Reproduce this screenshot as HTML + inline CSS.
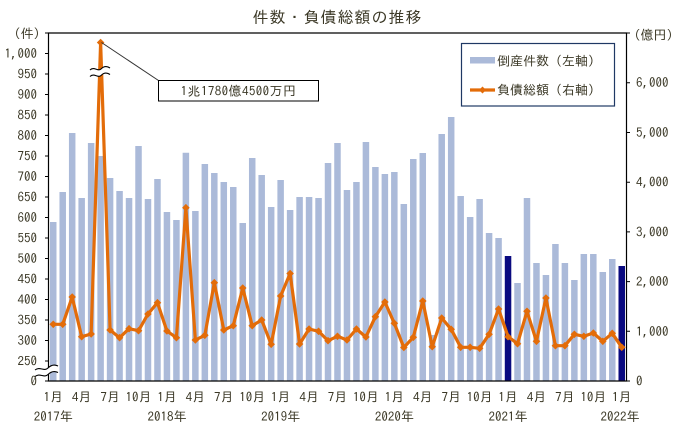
<!DOCTYPE html>
<html><head><meta charset="utf-8"><style>
html,body{margin:0;padding:0;background:#fff;}
svg{display:block;}
text{font-family:"IPAGothic","Noto Sans CJK JP",sans-serif;fill:#3b3826;font-size:13px;}
</style></head><body>
<svg width="685" height="436" viewBox="0 0 685 436" xmlns="http://www.w3.org/2000/svg">
<defs>
<marker id="dm" markerUnits="userSpaceOnUse" markerWidth="10" markerHeight="10" refX="5" refY="5" viewBox="0 0 10 10">
<path d="M5,1.2 L8.8,5 L5,8.8 L1.2,5 Z" fill="#e36c09"/>
</marker>
</defs>
<rect width="685" height="436" fill="#fff"/>
<text x="337.5" y="23" text-anchor="middle" style="font-size:16px;letter-spacing:1px">件数・負債総額の推移</text>
<path fill="#abbad9" d="M49.99,381V222h6.5V381zM59.47,381V192h6.5V381zM68.94,381V133h6.5V381zM78.42,381V198h6.5V381zM87.89,381V143h6.5V381zM97.37,381V156h6.5V381zM106.84,381V178h6.5V381zM116.32,381V191h6.5V381zM125.79,381V198h6.5V381zM135.27,381V146h6.5V381zM144.74,381V199h6.5V381zM154.22,381V179h6.5V381zM163.69,381V212h6.5V381zM173.17,381V220h6.5V381zM182.64,381V152.7h6.5V381zM192.12,381V211h6.5V381zM201.59,381V164h6.5V381zM211.07,381V173h6.5V381zM220.54,381V182h6.5V381zM230.02,381V187h6.5V381zM239.49,381V223h6.5V381zM248.97,381V158h6.5V381zM258.44,381V175h6.5V381zM267.92,381V207h6.5V381zM277.39,381V180h6.5V381zM286.87,381V210h6.5V381zM296.34,381V197h6.5V381zM305.82,381V197h6.5V381zM315.29,381V198h6.5V381zM324.77,381V163h6.5V381zM334.24,381V143h6.5V381zM343.72,381V190h6.5V381zM353.19,381V182h6.5V381zM362.67,381V142h6.5V381zM372.14,381V167h6.5V381zM381.62,381V174h6.5V381zM391.09,381V172h6.5V381zM400.57,381V204h6.5V381zM410.04,381V159h6.5V381zM419.52,381V153h6.5V381zM428.99,381V335h6.5V381zM438.47,381V134h6.5V381zM447.94,381V117h6.5V381zM457.42,381V196h6.5V381zM466.89,381V217h6.5V381zM476.37,381V199h6.5V381zM485.84,381V233h6.5V381zM495.32,381V238h6.5V381zM514.27,381V283h6.5V381zM523.74,381V198h6.5V381zM533.22,381V263h6.5V381zM542.69,381V275h6.5V381zM552.17,381V244h6.5V381zM561.64,381V263h6.5V381zM571.12,381V280h6.5V381zM580.59,381V254h6.5V381zM590.07,381V254h6.5V381zM599.54,381V272h6.5V381zM609.02,381V259h6.5V381z"/>
<path fill="#0a0a80" d="M504.79,381V256h6.5V381zM618.49,381V266h6.5V381z"/>
<polyline fill="none" stroke="#e36c09" stroke-width="3.2" stroke-linejoin="round" marker-start="url(#dm)" marker-mid="url(#dm)" marker-end="url(#dm)" points="53.24,324.3 62.72,324.3 72.19,297 81.67,336.7 91.14,334 100.62,42.5 110.09,330 119.57,337.7 129.04,328.7 138.52,330.7 147.99,314 157.47,302.7 166.94,331 176.42,337.7 185.89,207.7 195.37,340 204.84,335.3 214.32,282.7 223.79,330 233.27,325.7 242.74,288 252.22,325.7 261.69,320 271.17,344.3 280.64,296 290.12,273.5 299.59,344 309.07,329 318.54,331.3 328.02,340.7 337.49,336.3 346.97,340 356.44,329 365.92,337 375.39,316.7 384.87,302 394.34,323.3 403.82,347.5 413.29,337.3 422.77,301 432.24,346.7 441.72,318 451.19,329.3 460.67,347.3 470.14,347.3 479.62,348.3 489.09,334.3 498.57,309 508.04,336.7 517.52,343.7 526.99,311.3 536.47,341.3 545.94,298 555.42,345.7 564.89,345.7 574.37,334.3 583.84,336.3 593.32,333 602.79,341.3 612.27,333.3 621.74,347.3"/>
<path fill="none" stroke="#000" stroke-width="1.2" d="M48.5,33H626.5V381H48.5Z"/>
<path fill="none" stroke="#000" stroke-width="1" d="M45,33h3.5M45,53.5h3.5M45,74h3.5M45,94.5h3.5M45,115h3.5M45,135.5h3.5M45,156h3.5M45,176.5h3.5M45,197h3.5M45,217.5h3.5M45,238h3.5M45,258.5h3.5M45,279h3.5M45,299.5h3.5M45,320h3.5M45,340.5h3.5M45,361h3.5M45,381h3.5M626.5,381h3.5M626.5,331.3h3.5M626.5,281.6h3.5M626.5,231.9h3.5M626.5,182.2h3.5M626.5,132.5h3.5M626.5,82.7h3.5M626.5,33h3.5"/>
<g text-anchor="end">
<text x="40" y="38">(件)</text>
<text x="37" y="58">1,000</text>
<text x="37" y="78.5">950</text>
<text x="37" y="99">900</text>
<text x="37" y="119.5">850</text>
<text x="37" y="140">800</text>
<text x="37" y="160.5">750</text>
<text x="37" y="181">700</text>
<text x="37" y="201.5">650</text>
<text x="37" y="222">600</text>
<text x="37" y="242.5">550</text>
<text x="37" y="263">500</text>
<text x="37" y="283.5">450</text>
<text x="37" y="304">400</text>
<text x="37" y="324.5">350</text>
<text x="37" y="345">300</text>
<text x="37" y="365.5">250</text>
<text x="37" y="385.5">0</text>
</g>
<g>
<text x="634" y="39.5">(億円)</text>
<text x="636" y="87.2">6,000</text>
<text x="636" y="137">5,000</text>
<text x="636" y="186.7">4,000</text>
<text x="636" y="236.4">3,000</text>
<text x="636" y="286.1">2,000</text>
<text x="636" y="335.8">1,000</text>
<text x="636" y="385.5">0</text>
</g>
<g text-anchor="middle">
<text x="53.24" y="401.5">1月</text>
<text x="81.67" y="401.5">4月</text>
<text x="110.09" y="401.5">7月</text>
<text x="138.52" y="401.5">10月</text>
<text x="166.94" y="401.5">1月</text>
<text x="195.37" y="401.5">4月</text>
<text x="223.79" y="401.5">7月</text>
<text x="252.22" y="401.5">10月</text>
<text x="280.64" y="401.5">1月</text>
<text x="309.07" y="401.5">4月</text>
<text x="337.49" y="401.5">7月</text>
<text x="365.92" y="401.5">10月</text>
<text x="394.34" y="401.5">1月</text>
<text x="422.77" y="401.5">4月</text>
<text x="451.19" y="401.5">7月</text>
<text x="479.62" y="401.5">10月</text>
<text x="508.04" y="401.5">1月</text>
<text x="536.47" y="401.5">4月</text>
<text x="564.89" y="401.5">7月</text>
<text x="593.32" y="401.5">10月</text>
<text x="621.74" y="401.5">1月</text>
<text x="53.24" y="421">2017年</text>
<text x="166.94" y="421">2018年</text>
<text x="280.64" y="421">2019年</text>
<text x="394.34" y="421">2020年</text>
<text x="508.04" y="421">2021年</text>
<text x="620" y="421">2022年</text>
</g>
<path d="M35,370 C40,366 44,372 48,368 C51,365 54,364 58,366 L58,372.5 C54,370.5 51,371.5 48,374.5 C44,378.5 40,372.5 35,376.5 Z" fill="#fff"/>
<path d="M35,370 C40,366 44,372 48,368 C51,365 54,364 58,366 M35,376.5 C40,372.5 44,378.5 48,374.5 C51,371.5 54,370.5 58,372.5" fill="none" stroke="#000" stroke-width="1.1"/>
<path d="M90,70 C94,66 98,72 101,69 C104,66 107,66 110,68 L110,74.5 C107,72.5 104,72.5 101,75.5 C98,78.5 94,72.5 90,76.5 Z" fill="#fff"/>
<path d="M90,70 C94,66 98,72 101,69 C104,66 107,66 110,68 M90,76.5 C94,72.5 98,78.5 101,75.5 C104,72.5 107,72.5 110,74.5" fill="none" stroke="#000" stroke-width="1.1"/>
<line x1="101.5" y1="42.5" x2="158.5" y2="80.5" stroke="#333" stroke-width="1"/>
<rect x="158.5" y="80.5" width="160" height="20.5" fill="#fff" stroke="#000" stroke-width="1"/>
<text x="238.5" y="95.5" text-anchor="middle" style="letter-spacing:0.4px">1兆1780億4500万円</text>
<rect x="461.5" y="43.5" width="153" height="62.5" fill="#fff" stroke="#1f3864" stroke-width="1.2"/>
<rect x="470" y="57" width="25" height="6.5" fill="#abbad9"/>
<text x="497" y="65.5">倒産件数（左軸）</text>
<line x1="470" y1="90" x2="495" y2="90" stroke="#e36c09" stroke-width="3.2"/>
<path d="M482.5,86.5 L486,90 L482.5,93.5 L479,90 Z" fill="#e36c09"/>
<text x="497" y="94.5">負債総額（右軸）</text>
</svg>
</body></html>
